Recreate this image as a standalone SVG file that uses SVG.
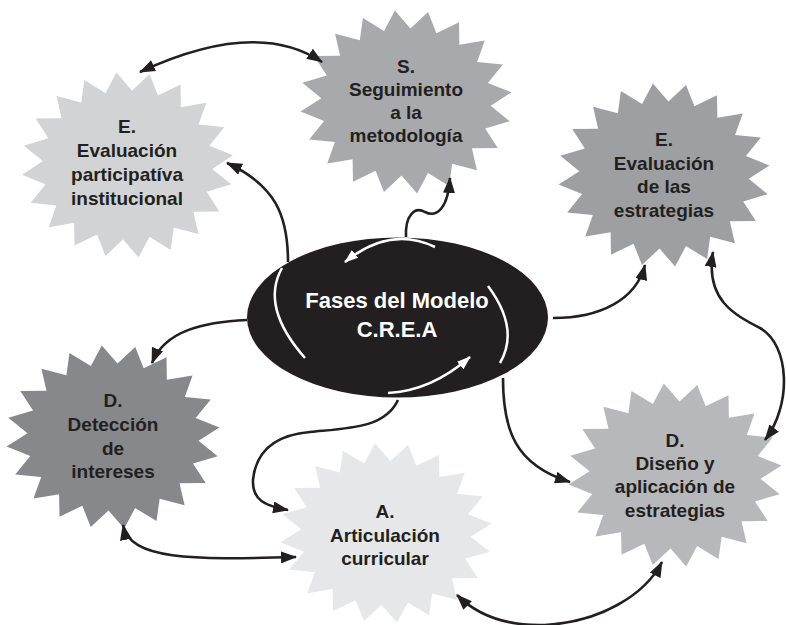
<svg xmlns="http://www.w3.org/2000/svg" xmlns:xlink="http://www.w3.org/1999/xlink" width="786" height="625" viewBox="0 0 786 625">
<style>
.lbl{font-family:"Liberation Sans",Arial,sans-serif;font-weight:bold;font-size:19px;fill:#231f20;text-anchor:middle}
.ctr{font-family:"Liberation Sans",Arial,sans-serif;font-weight:bold;font-size:22px;fill:#ffffff;text-anchor:middle}
.con{fill:none;stroke:#231f20;stroke-width:2.6}
.wht{fill:none;stroke:#ffffff;stroke-width:2.5}
</style>
<defs>
<polygon id="star" points="-10.45,-99.45 4.19,-79.89 20.79,-97.81 28.67,-74.69 50,-86.6 50.35,-62.17 74.31,-66.91 67.1,-43.57 91.35,-40.67 77.27,-20.71 99.45,-10.45 79.89,4.19 97.81,20.79 74.69,28.67 86.6,50 62.17,50.35 66.91,74.31 43.57,67.1 40.67,91.35 20.71,77.27 10.45,99.45 -4.19,79.89 -20.79,97.81 -28.67,74.69 -50,86.6 -50.35,62.17 -74.31,66.91 -67.1,43.57 -91.35,40.67 -77.27,20.71 -99.45,10.45 -79.89,-4.19 -97.81,-20.79 -74.69,-28.67 -86.6,-50 -62.17,-50.35 -66.91,-74.31 -43.57,-67.1 -40.67,-91.35 -20.71,-77.27"/>
<marker id="ah" viewBox="0 0 16 12" refX="15" refY="6" markerWidth="16" markerHeight="12" markerUnits="userSpaceOnUse" orient="auto-start-reverse">
<path d="M0,0 L16,6 L0,12 z" fill="#231f20"/>
</marker>
<marker id="wah" viewBox="0 0 14 10" refX="13" refY="5" markerWidth="14" markerHeight="10" markerUnits="userSpaceOnUse" orient="auto">
<path d="M0,0 L14,5 L0,10 z" fill="#ffffff"/>
</marker>
</defs>
<rect width="786" height="625" fill="#ffffff"/>

<g id="node-eval-participativa">
<use xlink:href="#star" href="#star" fill="#d1d3d4" transform="translate(127.5,165) scale(1.06,0.93)"/>
<text class="lbl" x="127" y="133">E.</text>
<text class="lbl" x="127" y="157">Evaluación</text>
<text class="lbl" x="127" y="181">participatíva</text>
<text class="lbl" x="127" y="205">institucional</text>
</g>

<g id="node-seguimiento">
<use xlink:href="#star" href="#star" fill="#a7a9ac" transform="translate(406,102) scale(1.06,0.92)"/>
<text class="lbl" x="406" y="73">S.</text>
<text class="lbl" x="406" y="96">Seguimiento</text>
<text class="lbl" x="406" y="119">a la</text>
<text class="lbl" x="406" y="142">metodología</text>
</g>

<g id="node-eval-estrategias">
<use xlink:href="#star" href="#star" fill="#9d9fa2" transform="translate(664,175) scale(1.06,0.92)"/>
<text class="lbl" x="664" y="146">E.</text>
<text class="lbl" x="664" y="170">Evaluación</text>
<text class="lbl" x="664" y="193">de las</text>
<text class="lbl" x="664" y="217">estrategias</text>
</g>

<g id="node-deteccion">
<use xlink:href="#star" href="#star" fill="#87888b" transform="translate(113,437) scale(1.07,0.92)"/>
<text class="lbl" x="113" y="407">D.</text>
<text class="lbl" x="113" y="431">Detección</text>
<text class="lbl" x="113" y="455">de</text>
<text class="lbl" x="113" y="478">intereses</text>
</g>

<g id="node-articulacion">
<use xlink:href="#star" href="#star" fill="#e6e7e8" transform="translate(386,533) scale(1.06,0.9)"/>
<text class="lbl" x="385" y="518">A.</text>
<text class="lbl" x="385" y="542">Articulación</text>
<text class="lbl" x="385" y="565">curricular</text>
</g>

<g id="node-diseno">
<use xlink:href="#star" href="#star" fill="#b7b8bb" transform="translate(675,475) scale(1.07,0.92)"/>
<text class="lbl" x="675" y="447">D.</text>
<text class="lbl" x="675" y="470">Diseño y</text>
<text class="lbl" x="675" y="493">aplicación de</text>
<text class="lbl" x="675" y="517">estrategias</text>
</g>

<g id="node-fases">
<ellipse cx="397.5" cy="317.5" rx="150.5" ry="80" fill="#231f20"/>
<text class="ctr" x="397" y="308">Fases del Modelo</text>
<text class="ctr" x="397" y="337">C.R.E.A</text>
<path class="wht" d="M435,247 Q390,225.5 345,262" marker-end="url(#wah)"/>
<path class="wht" d="M282,268 Q260,307 305,358"/>
<path class="wht" d="M488,286 Q520,329 500,363"/>
<path class="wht" d="M388,393 Q431,391 470,357" marker-end="url(#wah)"/>
</g>

<g id="connectors">
<path class="con" d="M140,72 Q256,18 322,62" marker-start="url(#ah)" marker-end="url(#ah)"/>
<path class="con" d="M288,262 C288,215 275,185 227,163" marker-end="url(#ah)"/>
<path class="con" d="M406,237 C405,215 415,206 425,212 C437,218 448,208 450,178" marker-end="url(#ah)"/>
<path class="con" d="M553,318 C600,318 636,300 645,265" marker-end="url(#ah)"/>
<path class="con" d="M713,252 C705,300 735,315 760,328 C790,345 792,405 765,440" marker-start="url(#ah)" marker-end="url(#ah)"/>
<path class="con" d="M503,378 C503,430 515,465 570,482" marker-end="url(#ah)"/>
<path class="con" d="M398,400 C385,428 350,428 310,432 C265,436 255,460 253,480 C252,500 265,506 288,510" marker-end="url(#ah)"/>
<path class="con" d="M247,320 C205,322 165,330 152,363" marker-end="url(#ah)"/>
<path class="con" d="M123,525 C130,560 190,560 296,557" marker-start="url(#ah)" marker-end="url(#ah)"/>
<path class="con" d="M457,595 C480,618 510,626 545,625 C600,622 645,595 662,562" marker-start="url(#ah)" marker-end="url(#ah)"/>
</g>
</svg>
